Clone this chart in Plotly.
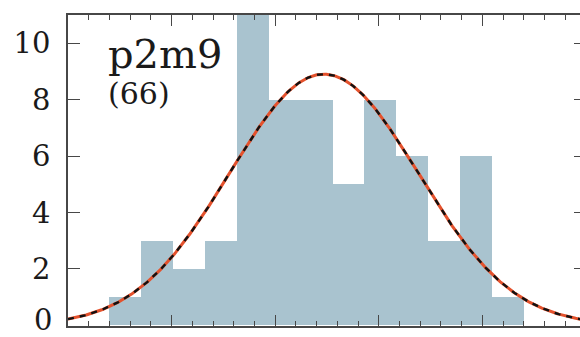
import numpy as np
import plotly.graph_objects as go

# Histogram counts per bin (13 equal bins from 0.4 to 4.4)
bin_start = 0.4
bin_stop = 4.4
counts = [1, 3, 2, 3, 12, 8, 8, 5, 8, 6, 3, 6, 1]

# Gaussian fit parameters
fit_mean = 2.47
fit_sigma = 0.91

label_name = "p2m9"
label_count = "(66)"

y_ticks = [0, 2, 4, 6, 8, 10]

n_bins = len(counts)
bin_w = (bin_stop - bin_start) / n_bins
edges = bin_start + bin_w * np.arange(n_bins)
n_total = sum(counts)

xs = np.linspace(0, 5, 400)
amp = n_total * bin_w / (fit_sigma * np.sqrt(2 * np.pi))
ys = amp * np.exp(-0.5 * ((xs - fit_mean) / fit_sigma) ** 2)

axis_col = "#474747"
text_col = "#1a1a1a"
serif = "DejaVu Serif"
tick_font = dict(family=serif, size=29, color=text_col)

fig = go.Figure()
fig.add_trace(go.Bar(
    x=edges, y=counts, width=bin_w, offset=0,
    marker=dict(color="#a9c3cf", line=dict(width=0)),
    hoverinfo="skip",
))
fig.add_trace(go.Scatter(
    x=xs, y=ys, mode="lines",
    line=dict(color="#e4512c", width=3),
))
fig.add_trace(go.Scatter(
    x=xs, y=ys, mode="lines", yaxis="y2",
    line=dict(color="#111111", width=2.4, dash="6px,6px"),
))

fig.add_annotation(
    x=0, y=1, xref="paper", yref="paper", xanchor="left", yanchor="top",
    xshift=38, yshift=-14, text=label_name, showarrow=False,
    font=dict(family=serif, size=40, color=text_col),
)
fig.add_annotation(
    x=0, y=1, xref="paper", yref="paper", xanchor="left", yanchor="top",
    xshift=38, yshift=-59, text=label_count, showarrow=False,
    font=dict(family=serif, size=30, color=text_col),
)

# the bottom tick label sits on the figure edge, so it is placed by hand
y_labels = [str(v) for v in y_ticks]
fig.add_annotation(
    x=0, y=y_ticks[0], xref="paper", yref="y", xanchor="right",
    yanchor="middle", xshift=-14, yshift=5, text=y_labels[0],
    showarrow=False, font=tick_font,
)

x_max = 512 / 103.6

fig.update_layout(
    width=580, height=337,
    margin=dict(l=68, r=0, t=15, b=11),
    paper_bgcolor="white", plot_bgcolor="white",
    showlegend=False, bargap=0,
    xaxis=dict(
        range=[0, x_max], showgrid=False, zeroline=False,
        showline=True, linecolor=axis_col, linewidth=1.6,
        mirror="ticks", ticks="inside", ticklen=11, tickwidth=1.4,
        tickcolor=axis_col, dtick=1, tick0=0, showticklabels=False,
        minor=dict(ticks="inside", ticklen=5, dtick=0.2, tick0=0,
                   tickcolor=axis_col, tickwidth=1.2, showgrid=False),
    ),
    yaxis=dict(
        range=[-0.02, 11], showgrid=False, zeroline=False,
        showline=True, linecolor=axis_col, linewidth=1.6,
        ticks="inside", ticklen=12, tickwidth=1.4, tickcolor=axis_col,
        tickvals=y_ticks, ticktext=[""] + y_labels[1:],
        ticklabelstandoff=10, tickfont=tick_font,
    ),
    yaxis2=dict(
        range=[-0.02, 11], overlaying="y", side="right", anchor="x",
        showgrid=False, zeroline=False, showline=False,
        ticks="inside", ticklen=6, tickwidth=1.4, tickcolor=axis_col,
        tickvals=y_ticks, showticklabels=False,
    ),
)

fig.write_html("out.html")
